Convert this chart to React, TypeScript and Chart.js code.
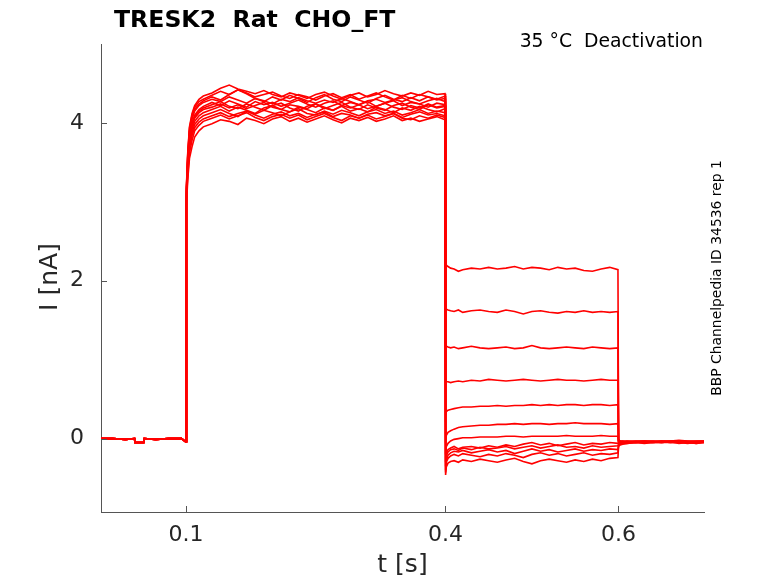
import { useEffect, useRef } from "react";
import { Chart, registerables } from "chart.js";

Chart.register(...registerables);

// time bases (s) for the four protocol phases
const holdT = [0.0017, 0.015, 0.03, 0.0405, 0.041, 0.0512, 0.0517, 0.065, 0.08, 0.095, 0.0995];
const actT = [
  0.1, 0.1005, 0.102, 0.104, 0.107, 0.11, 0.115, 0.12, 0.13, 0.14, 0.15, 0.16, 0.17, 0.18, 0.19, 0.2, 0.21, 0.22,
  0.23, 0.24, 0.25, 0.26, 0.27, 0.28, 0.29, 0.3, 0.31, 0.32, 0.33, 0.34, 0.35, 0.36, 0.37, 0.38, 0.39, 0.3995,
];
const deactT = [
  0.4002, 0.401, 0.403, 0.406, 0.41, 0.415, 0.42, 0.43, 0.44, 0.45, 0.46, 0.47, 0.48, 0.49, 0.5, 0.51, 0.52, 0.53,
  0.54, 0.55, 0.56, 0.57, 0.58, 0.59, 0.5995,
];
const tailT = [0.6002, 0.602, 0.605, 0.61, 0.62, 0.63, 0.64, 0.65, 0.66, 0.67, 0.68, 0.69, 0.699];

// currents (nA)
const holdI = [0.0, 0.0, -0.01, 0.0, -0.05, -0.05, 0.0, -0.01, 0.0, 0.0, -0.04];

const actI = [
  [-0.04, 3.2, 3.62, 3.95, 4.12, 4.22, 4.3, 4.34, 4.38, 4.44, 4.48, 4.43, 4.4, 4.37, 4.41, 4.36, 4.33, 4.38, 4.35, 4.31, 4.36, 4.39, 4.34, 4.3, 4.35, 4.38, 4.33, 4.36, 4.41, 4.37, 4.34, 4.38, 4.35, 4.4, 4.36, 4.37],
  [-0.04, 3.18, 3.6, 3.93, 4.1, 4.2, 4.27, 4.3, 4.35, 4.4, 4.36, 4.42, 4.38, 4.33, 4.36, 4.39, 4.34, 4.31, 4.36, 4.33, 4.29, 4.34, 4.37, 4.32, 4.36, 4.3, 4.34, 4.38, 4.33, 4.29, 4.35, 4.31, 4.36, 4.33, 4.3, 4.34],
  [-0.04, 3.15, 3.56, 3.88, 4.05, 4.15, 4.22, 4.26, 4.3, 4.27, 4.33, 4.29, 4.25, 4.31, 4.28, 4.24, 4.3, 4.27, 4.32, 4.28, 4.25, 4.29, 4.26, 4.31, 4.27, 4.23, 4.28, 4.3, 4.26, 4.29, 4.32, 4.27, 4.24, 4.28, 4.31, 4.27],
  [-0.04, 3.12, 3.52, 3.84, 4.0, 4.1, 4.17, 4.21, 4.26, 4.22, 4.28, 4.24, 4.2, 4.27, 4.23, 4.26, 4.21, 4.25, 4.29, 4.24, 4.2, 4.25, 4.28, 4.22, 4.26, 4.23, 4.27, 4.21, 4.25, 4.28, 4.22, 4.26, 4.24, 4.2, 4.25, 4.23],
  [-0.04, 3.1, 3.48, 3.8, 3.96, 4.06, 4.13, 4.17, 4.2, 4.24, 4.19, 4.23, 4.18, 4.22, 4.26, 4.2, 4.17, 4.23, 4.21, 4.18, 4.24, 4.2, 4.16, 4.22, 4.19, 4.23, 4.18, 4.21, 4.25, 4.2, 4.17, 4.22, 4.19, 4.24, 4.2, 4.22],
  [-0.04, 3.08, 3.45, 3.76, 3.92, 4.02, 4.09, 4.13, 4.17, 4.21, 4.15, 4.2, 4.16, 4.12, 4.19, 4.22, 4.17, 4.14, 4.2, 4.17, 4.13, 4.19, 4.16, 4.21, 4.15, 4.18, 4.14, 4.2, 4.17, 4.13, 4.19, 4.16, 4.21, 4.17, 4.14, 4.18],
  [-0.04, 3.05, 3.42, 3.72, 3.88, 3.98, 4.05, 4.09, 4.13, 4.17, 4.12, 4.08, 4.15, 4.11, 4.16, 4.13, 4.09, 4.14, 4.18, 4.12, 4.1, 4.15, 4.11, 4.16, 4.13, 4.09, 4.14, 4.17, 4.12, 4.15, 4.1, 4.13, 4.17, 4.12, 4.15, 4.13],
  [-0.04, 3.02, 3.38, 3.68, 3.84, 3.94, 4.01, 4.05, 4.09, 4.13, 4.08, 4.12, 4.15, 4.1, 4.06, 4.11, 4.14, 4.09, 4.12, 4.07, 4.11, 4.14, 4.08, 4.12, 4.1, 4.06, 4.11, 4.13, 4.09, 4.12, 4.07, 4.11, 4.14, 4.1, 4.12, 4.09],
  [-0.04, 3.0, 3.34, 3.62, 3.78, 3.9, 3.97, 4.02, 4.06, 4.1, 4.05, 4.09, 4.13, 4.07, 4.03, 4.08, 4.11, 4.06, 4.1, 4.04, 4.08, 4.12, 4.07, 4.03, 4.09, 4.06, 4.1, 4.05, 4.08, 4.12, 4.06, 4.04, 4.09, 4.06, 4.1, 4.07],
  [-0.04, 2.95, 3.28, 3.55, 3.7, 3.82, 3.9, 3.95, 3.99, 4.04, 4.02, 3.98, 4.06, 4.03, 3.99, 4.05, 4.08, 4.02, 4.06, 4.01, 4.05, 4.09, 4.04, 4.0, 4.06, 4.03, 4.07, 4.02, 4.05, 4.09, 4.03, 4.06, 4.02, 4.05, 4.08, 4.04],
  [-0.04, 3.17, 3.58, 3.9, 4.07, 4.17, 4.24, 4.28, 4.33, 4.29, 4.36, 4.42, 4.37, 4.31, 4.27, 4.33, 4.29, 4.35, 4.31, 4.26, 4.32, 4.36, 4.3, 4.27, 4.33, 4.29, 4.25, 4.31, 4.35, 4.3, 4.27, 4.32, 4.28, 4.33, 4.29, 4.31],
  [-0.04, 3.1, 3.5, 3.8, 3.97, 4.08, 4.15, 4.19, 4.23, 4.27, 4.21, 4.18, 4.24, 4.2, 4.16, 4.22, 4.25, 4.19, 4.15, 4.21, 4.24, 4.18, 4.22, 4.26, 4.2, 4.17, 4.23, 4.19, 4.16, 4.22, 4.25, 4.2, 4.17, 4.23, 4.19, 4.21],
];

const deactI = [
  [2.24, 2.2, 2.18, 2.16, 2.15, 2.12, 2.14, 2.16, 2.15, 2.17, 2.15, 2.16, 2.18, 2.15, 2.17, 2.16, 2.14, 2.17, 2.15, 2.16, 2.13, 2.12, 2.15, 2.17, 2.14],
  [1.66, 1.64, 1.63, 1.62, 1.61, 1.63, 1.6, 1.62, 1.63, 1.61, 1.6, 1.63, 1.61, 1.58, 1.61, 1.62, 1.6, 1.59, 1.61, 1.6, 1.62, 1.6, 1.61, 1.6, 1.61],
  [1.19, 1.17, 1.16, 1.15, 1.16, 1.14, 1.15, 1.17, 1.15, 1.14, 1.15, 1.16, 1.14, 1.15, 1.18, 1.15, 1.14, 1.15, 1.16, 1.15, 1.14, 1.16, 1.15, 1.14, 1.15],
  [0.73, 0.72, 0.72, 0.71, 0.72, 0.73, 0.72, 0.74, 0.73, 0.75, 0.74, 0.73, 0.74, 0.75, 0.74, 0.73, 0.74, 0.75, 0.74, 0.74, 0.73, 0.74, 0.75, 0.74, 0.74],
  [0.3, 0.34, 0.36, 0.37, 0.38, 0.39, 0.4, 0.4, 0.41, 0.41, 0.42, 0.41, 0.42, 0.42, 0.43, 0.42, 0.43, 0.42, 0.43, 0.43, 0.42, 0.43, 0.43, 0.42, 0.43],
  [-0.05, 0.04, 0.08, 0.1, 0.12, 0.14, 0.15, 0.16, 0.17, 0.17, 0.18, 0.18, 0.19, 0.18, 0.19, 0.19, 0.18, 0.19, 0.19, 0.2, 0.19, 0.19, 0.19, 0.18, 0.19],
  [-0.2, -0.1, -0.06, -0.03, -0.01, 0.0, 0.01, 0.01, 0.02, 0.02, 0.02, 0.03, 0.03, 0.02, 0.03, 0.03, 0.03, 0.03, 0.04, 0.03, 0.03, 0.03, 0.04, 0.03, 0.03],
  [-0.3, -0.18, -0.14, -0.12, -0.1, -0.13, -0.11, -0.1, -0.12, -0.09, -0.11, -0.08, -0.1, -0.07, -0.05, -0.08, -0.06, -0.09, -0.07, -0.05, -0.08, -0.06, -0.07, -0.05, -0.06],
  [-0.35, -0.22, -0.17, -0.14, -0.13, -0.15, -0.12, -0.14, -0.11, -0.13, -0.12, -0.1, -0.13, -0.11, -0.09, -0.12, -0.1, -0.08, -0.11, -0.1, -0.12, -0.09, -0.11, -0.1, -0.09],
  [-0.4, -0.27, -0.21, -0.18, -0.16, -0.17, -0.15, -0.18, -0.16, -0.14, -0.17, -0.15, -0.19, -0.16, -0.13, -0.16, -0.14, -0.17, -0.15, -0.13, -0.16, -0.14, -0.15, -0.13, -0.14],
  [-0.43, -0.3, -0.25, -0.22, -0.2, -0.22, -0.19, -0.21, -0.23, -0.2, -0.22, -0.19, -0.21, -0.24, -0.2, -0.18, -0.21, -0.19, -0.22, -0.2, -0.18, -0.21, -0.19, -0.2, -0.18],
  [-0.46, -0.36, -0.31, -0.29, -0.28, -0.3, -0.27, -0.29, -0.26, -0.28, -0.3, -0.27, -0.25, -0.29, -0.32, -0.28, -0.26, -0.28, -0.3, -0.27, -0.29, -0.26, -0.28, -0.25, -0.24],
];

const tailI = [
  [-0.01, -0.03, -0.03, -0.04, -0.03, -0.03, -0.04, -0.03, -0.03, -0.02, -0.03, -0.03, -0.03],
  [-0.02, -0.03, -0.04, -0.03, -0.04, -0.03, -0.03, -0.04, -0.03, -0.03, -0.04, -0.03, -0.03],
  [-0.03, -0.04, -0.03, -0.04, -0.04, -0.03, -0.04, -0.03, -0.04, -0.03, -0.03, -0.04, -0.04],
  [-0.03, -0.04, -0.04, -0.03, -0.04, -0.04, -0.03, -0.04, -0.04, -0.03, -0.04, -0.04, -0.03],
  [-0.04, -0.04, -0.05, -0.04, -0.03, -0.04, -0.04, -0.03, -0.04, -0.04, -0.05, -0.04, -0.04],
  [-0.05, -0.05, -0.04, -0.04, -0.04, -0.05, -0.04, -0.04, -0.03, -0.04, -0.04, -0.05, -0.04],
  [-0.05, -0.05, -0.05, -0.04, -0.05, -0.04, -0.04, -0.05, -0.04, -0.04, -0.05, -0.04, -0.04],
  [-0.06, -0.06, -0.05, -0.05, -0.04, -0.05, -0.05, -0.04, -0.05, -0.05, -0.04, -0.05, -0.04],
  [-0.07, -0.06, -0.05, -0.05, -0.05, -0.04, -0.05, -0.05, -0.04, -0.06, -0.05, -0.04, -0.05],
  [-0.08, -0.07, -0.06, -0.05, -0.05, -0.05, -0.04, -0.05, -0.05, -0.04, -0.05, -0.06, -0.05],
  [-0.09, -0.07, -0.06, -0.06, -0.05, -0.05, -0.05, -0.04, -0.05, -0.05, -0.06, -0.05, -0.04],
  [-0.1, -0.08, -0.07, -0.06, -0.05, -0.06, -0.05, -0.05, -0.04, -0.05, -0.05, -0.06, -0.05],
];

const xTicks = [0.1, 0.4, 0.6];
const yTicks = [0, 2, 4];

const FONT = "'DejaVu Sans', sans-serif";
const AXIS = "#555555";
const TEXT = "#262626";

function sweep(i: number) {
  const pts: { x: number; y: number }[] = [];
  holdT.forEach((t, k) => pts.push({ x: t, y: holdI[k] }));
  actT.forEach((t, k) => pts.push({ x: t, y: actI[i][k] }));
  deactT.forEach((t, k) => pts.push({ x: t, y: deactI[i][k] }));
  tailT.forEach((t, k) => pts.push({ x: t, y: tailI[i][k] }));
  return pts;
}

const overlay = {
  id: "overlay",
  afterDraw(chart: any) {
    const { ctx, chartArea, scales } = chart;
    ctx.save();
    // inward tick marks
    ctx.strokeStyle = AXIS;
    ctx.lineWidth = 1;
    ctx.beginPath();
    xTicks.forEach((v) => {
      const x = Math.round(scales.x.getPixelForValue(v)) + 0.5;
      ctx.moveTo(x, chartArea.bottom);
      ctx.lineTo(x, chartArea.bottom - 6);
    });
    yTicks.forEach((v) => {
      const y = Math.round(scales.y.getPixelForValue(v)) + 0.5;
      ctx.moveTo(chartArea.left, y);
      ctx.lineTo(chartArea.left + 6, y);
    });
    ctx.stroke();

    ctx.fillStyle = "#000";
    ctx.font = `bold 23.6px ${FONT}`;
    ctx.textAlign = "left";
    ctx.textBaseline = "alphabetic";
    ctx.fillText("TRESK2  Rat  CHO_FT", 114, 27);

    ctx.font = `18.8px ${FONT}`;
    ctx.textAlign = "right";
    ctx.fillText("35 °C  Deactivation", 703, 47);

    ctx.fillStyle = TEXT;
    ctx.font = `25px ${FONT}`;
    ctx.textAlign = "center";
    ctx.textBaseline = "middle";
    ctx.fillText("t [s]", (chartArea.left + chartArea.right) / 2, 565);

    ctx.save();
    ctx.translate(50, 277);
    ctx.rotate(-Math.PI / 2);
    ctx.fillText("I [nA]", 0, 0);
    ctx.restore();

    ctx.save();
    ctx.fillStyle = "#000";
    ctx.font = `13.9px ${FONT}`;
    ctx.translate(717, 278);
    ctx.rotate(-Math.PI / 2);
    ctx.fillText("BBP Channelpedia ID 34536 rep 1", 0, 0);
    ctx.restore();

    ctx.restore();
  },
};

export default function App() {
  const canvasRef = useRef<HTMLCanvasElement>(null);
  const chartInstance = useRef<Chart | null>(null);

  useEffect(() => {
    if (!canvasRef.current) return;
    const ctx = canvasRef.current.getContext("2d");
    if (!ctx) return;

    if (chartInstance.current) {
      chartInstance.current.destroy();
    }

    const datasets = actI.map((_, i) => ({
      data: sweep(i),
      borderColor: "rgb(255,0,0)",
      borderWidth: 1.6,
      pointRadius: 0,
      fill: false,
      tension: 0,
    }));

    chartInstance.current = new Chart(ctx, {
      type: "line",
      data: { datasets },
      plugins: [overlay],
      options: {
        animation: false,
        responsive: true,
        maintainAspectRatio: false,
        devicePixelRatio: 1,
        layout: { padding: { left: 0, right: 74, top: 44, bottom: 0 } },
        plugins: {
          legend: { display: false },
          tooltip: { enabled: false },
          title: { display: false },
        },
        scales: {
          x: {
            type: "linear",
            min: 0.0017,
            max: 0.699,
            afterBuildTicks: (scale: any) => {
              scale.ticks = xTicks.map((v) => ({ value: v }));
            },
            afterFit: (scale: any) => {
              scale.height = 71;
            },
            grid: { display: true, drawOnChartArea: false, drawTicks: false },
            border: { display: true, color: AXIS, width: 1 },
            ticks: {
              padding: 10,
              color: TEXT,
              font: { family: FONT, size: 22 },
              maxRotation: 0,
              callback: (v: any) => Number(v).toFixed(1),
            },
          },
          y: {
            type: "linear",
            min: -0.93,
            max: 5.0,
            afterBuildTicks: (scale: any) => {
              scale.ticks = yTicks.map((v) => ({ value: v }));
            },
            afterFit: (scale: any) => {
              scale.width = 101;
            },
            grid: { display: true, drawOnChartArea: false, drawTicks: false },
            border: { display: true, color: AXIS, width: 1 },
            ticks: {
              padding: 17,
              color: TEXT,
              font: { family: FONT, size: 22 },
              callback: (v: any) => String(v),
            },
          },
        },
      },
    });

    return () => {
      if (chartInstance.current) {
        chartInstance.current.destroy();
        chartInstance.current = null;
      }
    };
  }, []);

  return (
    <div style={{ position: "absolute", left: 0, top: 0, width: 778, height: 583, background: "#fff" }}>
      <canvas ref={canvasRef} />
    </div>
  );
}
